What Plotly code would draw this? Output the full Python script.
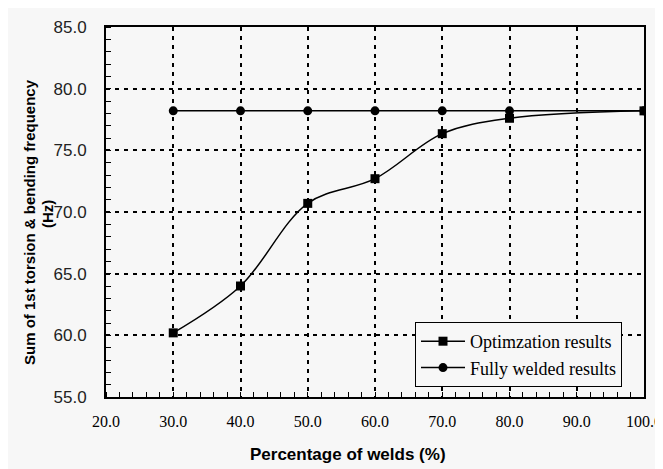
import plotly.graph_objects as go

x_opt = [30, 40, 50, 60, 70, 80, 100]
y_opt = [60.2, 64.0, 70.7, 72.7, 76.35, 77.6, 78.2]
x_full = [30, 40, 50, 60, 70, 80, 100]
y_full = [78.2, 78.2, 78.2, 78.2, 78.2, 78.2, 78.2]
x_ticks = [20, 30, 40, 50, 60, 70, 80, 90, 100]
x_ticklabels = ["20.0", "30.0", "40.0", "50.0", "60.0", "70.0", "80.0", "90.0", "100.0"]
y_ticks = [55, 60, 65, 70, 75, 80, 85]
y_ticklabels = ["55.0", "60.0", "65.0", "70.0", "75.0", "80.0", "85.0"]

bg = "#f7f7f7"
OFF = 8  # page body margin
W, H = 655, 461
L, T, R, B = 98, 19, 19, 72
pw, ph = W - L - R, H - T - B


def px_x(p):
    return (p - OFF - L) / pw


def px_y(p):
    return (H - B - (p - OFF)) / ph


fig = go.Figure()
fig.add_trace(go.Scatter(
    x=x_opt, y=y_opt, name="Optimzation results", mode="lines+markers",
    line=dict(color="black", width=1.5, shape="spline", smoothing=1.0),
    marker=dict(symbol="square", size=9, color="black"),
))
fig.add_trace(go.Scatter(
    x=x_full, y=y_full, name="Fully welded results", mode="lines+markers",
    line=dict(color="black", width=1.5),
    marker=dict(symbol="circle", size=9, color="black"),
))

sans = "Liberation Sans, Arial, sans-serif"
serif = "Liberation Serif, Times New Roman, serif"

fig.update_layout(
    width=W, height=H,
    margin=dict(l=L, r=R, t=T, b=B, autoexpand=False),
    paper_bgcolor=bg, plot_bgcolor=bg,
    showlegend=True,
    legend=dict(
        x=px_x(415), y=px_y(322), xanchor="left", yanchor="top",
        bgcolor=bg, bordercolor="black", borderwidth=1,
        font=dict(family=serif, size=18, color="black"),
        tracegroupgap=0, itemwidth=44,
    ),
    xaxis=dict(
        range=[20, 100], tickmode="array", tickvals=x_ticks, ticktext=x_ticklabels,
        ticks="", showgrid=True, gridcolor="black", gridwidth=2, griddash="4px,5px",
        showline=True, linecolor="black", linewidth=2, mirror=True,
        tickfont=dict(family=serif, size=16, color="black"),
        ticklabelstandoff=9, automargin=False, ticklabeloverflow="allow",
        minor=dict(dtick=2, ticks="inside", ticklen=5, tickcolor="black", tickwidth=1, showgrid=False),
        zeroline=False,
    ),
    yaxis=dict(
        range=[55, 85], tickmode="array", tickvals=y_ticks, ticktext=y_ticklabels,
        ticks="", showgrid=True, gridcolor="black", gridwidth=2, griddash="4px,5px",
        showline=True, linecolor="black", linewidth=2, mirror=True,
        tickfont=dict(family=sans, size=17, color="#222"),
        ticklabelstandoff=14, automargin=False, ticklabeloverflow="allow",
        minor=dict(dtick=1, ticks="inside", ticklen=5, tickcolor="black", tickwidth=1, showgrid=False),
        zeroline=False,
    ),
    annotations=[
        dict(text="<b>Percentage of welds (%)</b>", xref="paper", yref="paper",
             x=px_x(348), y=px_y(454), xanchor="center", yanchor="middle", showarrow=False,
             font=dict(family=sans, size=17, color="black")),
        dict(text="<b>Sum of 1st torsion & bending frequency</b>", xref="paper", yref="paper",
             x=px_x(30), y=px_y(222), xanchor="center", yanchor="middle", showarrow=False,
             textangle=-90, font=dict(family=sans, size=15, color="black")),
        dict(text="<b>(Hz)</b>", xref="paper", yref="paper",
             x=px_x(48), y=px_y(214), xanchor="center", yanchor="middle", showarrow=False,
             textangle=-90, font=dict(family=sans, size=15, color="black")),
    ],
)

fig.write_html("out.html")
